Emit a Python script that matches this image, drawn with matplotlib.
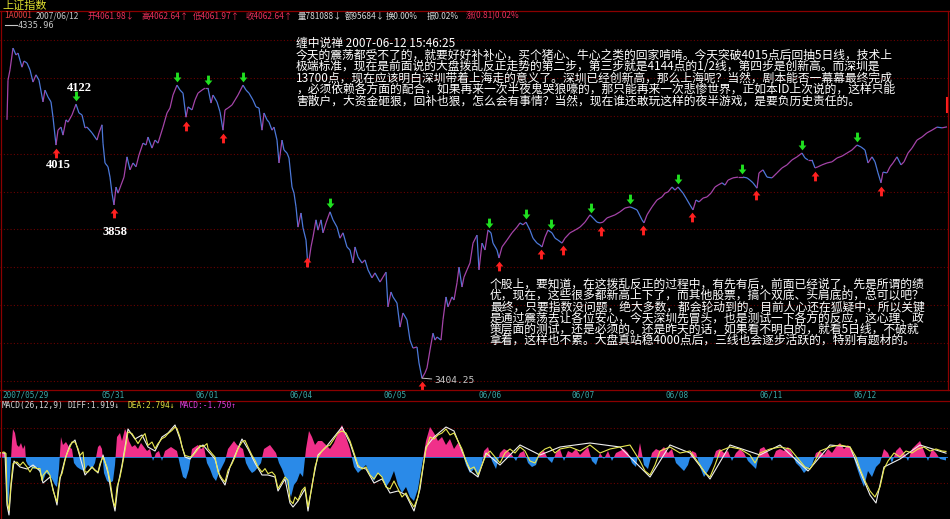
import numpy as np
import matplotlib
matplotlib.use('Agg')
import matplotlib.pyplot as plt
from matplotlib.collections import LineCollection
from matplotlib.path import Path
import matplotlib.transforms as mtransforms

plt.rcParams['font.family'] = ['Noto Sans CJK SC', 'DejaVu Sans']

W, H = 950, 519

# ---- price line (time index ~ half bars, close price) ----
t_left = [7, 8, 10, 13, 16, 18, 22, 24, 27, 30, 33, 36, 39, 43, 45, 48, 51, 53, 56, 58,
          61, 63, 66, 68, 72, 76, 79, 82, 85, 87, 92, 97, 99, 102, 103, 105, 108, 110, 112, 114,
          116, 118, 121, 124, 127, 130, 133, 136, 139, 143, 146, 148, 152, 155, 158, 163, 167, 170, 173, 177,
          180, 183, 186, 188, 192, 195, 198, 202, 205, 208, 211, 213, 217, 220, 223, 225, 228, 232, 235, 238,
          243, 246, 249, 253, 256, 259, 262, 264, 267, 269, 272, 274, 277, 279, 282, 284, 287, 289, 292, 294,
          296, 298, 301, 303, 306, 308, 311, 313, 316, 318, 321, 323, 326, 330, 333, 337, 340, 343, 347, 350,
          353, 355, 358, 362, 365, 368, 372, 375, 380, 383, 386, 388, 391, 393, 397, 400, 403, 407, 410, 413,
          417, 419, 422, 425, 427, 430, 433, 435, 437, 441, 443, 446, 448, 452, 454, 457, 459, 462, 464, 467,
          470, 473, 477, 479]
price_left = [4081, 4185, 4212, 4269, 4251, 4256, 4219, 4235, 4230, 4212, 4180, 4199, 4185, 4128, 4159, 4141, 4128, 4088, 4015, 4054,
              4062, 4041, 4081, 4075, 4094, 4122, 4099, 4094, 4060, 4062, 4047, 4028, 4047, 4068, 4020, 3968, 3958, 3931, 3889, 3858,
              3905, 3889, 3910, 3931, 3984, 3950, 3968, 3958, 3989, 4020, 4015, 4036, 4007, 4028, 4020, 4062, 4099, 4112, 4146, 4172,
              4159, 4151, 4088, 4115, 4107, 4133, 4151, 4159, 4164, 4164, 4125, 4146, 4128, 4102, 4054, 4107, 4112, 4120, 4133, 4146,
              4172, 4159, 4151, 4133, 4115, 4112, 4054, 4099, 4081, 4075, 4054, 4062, 4028, 3968, 4028, 4002, 3994, 3981, 3905, 3889,
              3853, 3800, 3837, 3798, 3766, 3695, 3748, 3774, 3819, 3792, 3819, 3785, 3811, 3840, 3819, 3800, 3771, 3785, 3748, 3740,
              3706, 3748, 3722, 3706, 3714, 3688, 3667, 3680, 3656, 3669, 3682, 3591, 3630, 3617, 3601, 3538, 3575, 3557, 3504, 3483,
              3486, 3444, 3404.25, 3418, 3431, 3478, 3522, 3504, 3512, 3504, 3557, 3617, 3591, 3617, 3609, 3654, 3695, 3643, 3669, 3688,
              3706, 3758, 3779, 3688]
t_right = [482, 485, 488, 491, 493, 497, 499, 502, 507, 512, 517, 520, 523, 526, 530, 533, 537, 540, 542, 545,
           548, 552, 555, 558, 562, 565, 570, 575, 580, 585, 590, 593, 597, 600, 603, 607, 610, 615, 620, 625,
           630, 633, 637, 642, 644, 647, 652, 657, 662, 665, 668, 672, 675, 678, 683, 686, 690, 693, 696, 699,
           703, 707, 711, 715, 718, 722, 725, 728, 733, 738, 743, 747, 750, 753, 757, 759, 763, 767, 772, 777,
           782, 787, 792, 797, 802, 805, 808, 812, 815, 818, 822, 827, 832, 837, 842, 847, 852, 857, 861, 865,
           868, 872, 875, 878, 881, 883, 887, 890, 893, 897, 901, 904, 908, 912, 917, 922, 927, 932, 937, 942,
           947]
price_right = [3758, 3740, 3792, 3785, 3758, 3740, 3719, 3748, 3766, 3785, 3800, 3811, 3806, 3813, 3792, 3771, 3758, 3753, 3748, 3774,
               3792, 3785, 3771, 3766, 3758, 3771, 3785, 3792, 3800, 3813, 3832, 3824, 3813, 3811, 3813, 3824, 3827, 3832, 3840, 3850,
               3853, 3850, 3845, 3819, 3811, 3832, 3853, 3871, 3879, 3889, 3892, 3905, 3897, 3905, 3889, 3876, 3858, 3845, 3871, 3866,
               3876, 3879, 3889, 3905, 3910, 3916, 3910, 3923, 3929, 3931, 3931, 3929, 3923, 3916, 3902, 3942, 3950, 3931, 3929, 3942,
               3955, 3963, 3976, 3984, 3994, 3981, 3976, 3976, 3955, 3958, 3963, 3968, 3971, 3981, 3986, 3994, 4002, 4015, 4010, 4002,
               3968, 3984, 3971, 3942, 3916, 3944, 3942, 3958, 3968, 3984, 3963, 3971, 3994, 4007, 4028, 4036, 4047, 4054, 4062, 4060,
               4062.64]

sell_t = [76, 177, 208, 243, 330, 489, 526, 551, 591, 630, 678, 742, 802, 857]
buy_t = [56, 114, 186, 223, 307, 422, 499, 541, 563, 601, 643, 692, 756, 815, 881]

# label, anchor time, pixel offset (x, y) from the point
labels = [('4122', 76, 3, 16), ('4015', 56, 2, -20), ('3858', 114, 1, -27)]

day_t = [0, 100, 194, 288, 382, 476, 570, 663, 758, 852]
day_labels = ['2007/05/29', '05/31', '06/01', '06/04', '06/05', '06/06', '06/07', '06/08', '06/11', '06/12']

# ---- MACD (time, value) ----
macd_bar = [(0, 1.5), (3, 2), (5, 2), (7, -20), (8, -26), (10, -10), (12, 8), (13, 14), (15, 12), (17, 6),
            (19, 5), (21, 7), (23, 4), (25, 6), (26, -2), (28, -4), (31, -5), (34, -6), (37, -5), (40, -8),
            (43, -12), (46, -8), (49, -9), (52, -11), (55, -14), (57, -15), (59, -6), (61, 10), (63, 6), (66, 7.5),
            (69, 5), (72, 4), (74, -3), (77, -5), (80, -6), (84, -7), (88, -4), (92, -6), (95, -3), (98, 5),
            (100, 6), (102, 4), (104, -8), (107, -12), (110, -13), (113, -12), (115, -4), (117, 10), (120, 12), (122, 8),
            (125, 14), (127, 12), (129, 8), (132, 5), (135, 6), (138, 4), (141, 7), (144, 5), (147, 3), (150, 4),
            (153, -2), (156, 2), (159, 3), (162, -2), (165, 3), (168, 4), (171, 5), (174, 4), (177, 3), (180, -4),
            (183, -10), (186, -11), (189, -6), (192, 4), (195, 5), (198, 6), (201, 4), (204, 5), (207, -3), (210, -6),
            (213, -10), (216, -12), (219, -8), (222, -5), (225, -2), (228, 4), (231, 6), (234, 8), (237, 6), (240, 5),
            (243, 4), (246, -3), (249, -6), (252, -8), (255, -7), (258, -5), (261, -3), (264, 4), (267, 5), (270, 6),
            (273, 4), (276, 2), (279, -3), (282, -6), (285, -10), (288, -15), (291, -20), (294, -14), (297, -12), (300, -8),
            (303, -10), (306, 4), (309, 13), (312, 10), (315, 6), (318, 8), (322, 8), (326, 6), (330, 4), (334, 7),
            (338, 12), (342, 16), (346, 10), (350, 4), (354, -5), (358, -8), (362, -6), (366, -4), (370, -9), (374, -12),
            (378, -8), (382, -10), (386, -15), (390, -12), (394, -7), (398, -14), (402, -18), (406, -15), (410, -20), (414, -22),
            (418, -16), (422, -4), (426, 8), (430, 15), (434, 12), (438, 8), (442, 10), (446, 6), (450, 9), (454, 4),
            (458, 7), (462, 3), (466, -4), (470, -8), (474, -6), (478, -10), (482, -3), (484, 3), (488, 5), (492, -2),
            (496, -6), (500, 2), (504, 4), (508, 3), (512, 1), (516, -2), (520, 2), (524, 3), (528, -3), (532, -5),
            (536, -4), (540, 2), (544, 3), (548, -1), (552, -3), (556, 2), (560, 4), (564, -2), (568, 3), (572, 2),
            (576, 4), (580, 1), (584, 3), (588, 5), (592, -2), (596, -4), (600, 2), (604, -1), (608, 3), (612, -2),
            (616, 2), (620, 3), (624, 4), (628, 2), (632, -3), (636, -5), (640, 7), (644, -4), (648, -6), (652, 2),
            (656, 4), (660, 3), (664, 5), (668, 2), (672, 4), (676, -3), (680, -5), (684, -7), (688, -4), (692, 3),
            (696, 2), (700, -5), (704, -10), (708, -7), (712, -3), (716, 3), (720, 4), (724, 2), (728, 3), (732, -2),
            (736, 2), (740, 4), (744, 2), (748, -2), (752, -4), (756, -6), (760, 4), (764, 5), (768, 2), (772, -2),
            (776, 3), (780, 4), (784, 3), (788, 5), (792, 2), (796, -3), (800, -5), (804, -8), (808, -6), (812, -4),
            (816, 2), (820, 3), (824, 1), (828, 4), (832, 2), (836, 5), (840, 7), (844, 4), (848, 6), (852, 3),
            (856, -4), (860, -10), (864, -15), (868, -7), (872, -10), (876, -5), (880, -3), (884, 4), (888, 2), (892, -3),
            (896, 3), (900, 5), (904, 2), (908, -2), (912, 4), (916, 6), (920, 8), (924, 3), (928, -2), (932, 4),
            (936, 2), (940, -1), (946, -1.75)]
dea_line = [(0, 2), (4, 2.5), (6, 1.7), (7, -21.7), (9, -26.7), (11, -13.3), (13, -3.3), (17, -2.5), (20, -4.2), (23, -2.5),
            (27, -5), (30, -7.5), (33, -5), (37, -5.8), (40, -5.8), (42, -11.7), (43, -9.2), (47, -6.7), (50, -9.2), (53, -16.7),
            (57, -22.5), (58, -16.7), (60, -10), (62, -8.3), (65, -1.7), (67, 1.7), (70, 5), (72, 7.5), (75, 7.5), (78, 4.2),
            (80, 0.8), (83, 2.5), (85, -7.5), (88, -7.5), (92, -5), (95, -6.7), (98, -7.5), (100, -3.3), (103, 0), (107, -5),
            (110, -11.7), (113, -21.7), (115, -25), (117, -15), (120, -10), (122, -5), (125, 3.3), (128, 12.5), (132, 11.7), (135, 9.2),
            (138, 6.7), (142, 10), (145, 11.7), (148, 5.8), (152, 7.5), (155, 4.2), (158, 6.7), (162, 9.2), (165, 10), (168, 11.7),
            (172, 13.3), (175, 15), (177, 14.2), (180, 10), (182, 5), (185, 0.8), (190, 0), (193, 0.8), (197, 3.3), (200, 5.8),
            (203, 5), (207, 6.7), (208, 4.2), (212, 1.7), (215, 0), (218, -7.5), (222, -10.8), (225, -12.5), (228, -6.7), (232, -3.3),
            (235, 0), (238, 4.2), (242, 7.5), (245, 8.3), (248, 5), (252, 0.8), (255, -1.7), (258, -5), (262, -7.5), (265, -5.8),
            (268, -8.3), (272, -7.5), (275, -9.2), (278, -15.8), (282, -12.5), (285, -10), (288, -11.7), (290, -21.7), (293, -23.3), (295, -20),
            (298, -21.7), (302, -16.7), (305, -15), (307, -21.7), (308, -25), (312, -15), (315, -5), (318, 0), (322, 3), (326, 5),
            (330, 6), (334, 9), (338, 12), (342, 13), (346, 12), (350, 8), (354, 2), (358, -4), (362, -6), (366, -5),
            (370, -9), (374, -11), (378, -8), (382, -10), (386, -15), (390, -16), (394, -12), (398, -16), (402, -20), (406, -18),
            (410, -22), (414, -25), (418, -20), (422, -8), (426, 4), (430, 10), (434, 9), (438, 11), (442, 12), (446, 14),
            (450, 11), (454, 12), (458, 8), (462, 4), (466, -2), (470, -6), (474, -5), (478, -9), (482, -4), (486, 1),
            (490, 3), (495, 0), (500, -3), (505, 2), (510, 4), (515, 2), (520, 5), (525, 3), (530, -2), (535, -3),
            (540, 2), (545, 4), (550, 5), (555, 2), (560, 4), (570, 5), (580, 3), (590, 6), (600, 2), (610, 4),
            (620, 5), (630, 6), (640, -2), (645, -7), (650, -9), (655, -4), (660, 3), (670, 5), (680, 2), (690, 3),
            (700, -4), (705, -8), (710, -10), (715, -4), (720, 3), (730, 5), (740, 4), (750, 1), (755, -3), (760, 2),
            (770, 4), (780, 5), (790, 4), (800, -2), (805, -5), (810, -6), (815, -2), (820, 3), (830, 5), (840, 6),
            (850, 5), (856, 0), (860, -6), (865, -12), (870, -17), (875, -20), (880, -15), (884, -6), (888, -2), (894, 2),
            (900, 0), (906, 3), (912, 2), (918, 4), (924, 5), (930, 3), (936, 4), (942, 3), (946, 2.794)]
diff_line = [(0, 2), (5, 2), (7, -24), (9, -29), (11, -15), (14, -2), (20, -5), (27, -6), (33, -4), (40, -7),
             (43, -13), (50, -10), (54, -18), (57, -24), (60, -11), (65, -1), (70, 6), (75, 8.5), (80, 0), (85, -9),
             (92, -5), (98, -8), (103, 1), (108, -8), (112, -20), (115, -27), (118, -14), (122, -4), (128, 14), (135, 9),
             (142, 11), (148, 5), (155, 3), (162, 10), (168, 12), (175, 16), (180, 9), (185, 0), (190, -1), (197, 4),
             (203, 6), (208, 3), (215, -1), (220, -10), (225, -14), (230, -5), (236, 2), (242, 9), (248, 4), (255, -3),
             (262, -9), (268, -9), (275, -10), (278, -17), (285, -11), (290, -23), (293, -25), (298, -22), (305, -16), (308, -27),
             (312, -14), (318, 1), (326, 5), (334, 10), (342, 15), (350, 7), (358, -5), (366, -6), (374, -13), (382, -11),
             (390, -18), (398, -17), (406, -19), (414, -27), (420, -16), (426, 5), (434, 10), (446, 15), (454, 13), (462, 3),
             (470, -7), (478, -10), (486, 2), (500, -4), (520, 6), (540, 1), (560, 5), (590, 7), (620, 5), (650, -10),
             (670, 6), (690, 2), (710, -11), (730, 6), (760, 1), (780, 6), (808, -7), (830, 6), (850, 5), (860, -7),
             (870, -19), (876, -23), (884, -5), (900, -1), (920, 6), (946, 1.919)]

# ---- layout helpers (pixel -> figure fraction) ----
def fx(x):
    return x / W

def fy(y):
    return 1 - y / H

fig = plt.figure(figsize=(W / 100, H / 100), dpi=100, facecolor='black')

ax = fig.add_axes([0, fy(389), fx(948), (389 - 20) / H], facecolor='black')
ax.set_xlim(0, 948)
ax.set_ylim(3375.8, 4342.6)
ax.axis('off')

grid_levels = np.linspace(3397, 4290, 10)
for lv in grid_levels:
    ax.axhline(lv, color='#6a0000', lw=0.8, ls=(0, (1, 2)), zorder=0)

t_all = np.array(t_left + t_right, dtype=float)
p_all = np.array(price_left + price_right, dtype=float)
pts = np.column_stack([t_all, p_all])
segs = np.stack([pts[:-1], pts[1:]], axis=1)
seg_col = ['#a444a8' if b >= a else '#4c78d8' for a, b in zip(p_all[:-1], p_all[1:])]
ax.add_collection(LineCollection(segs, colors=seg_col, linewidths=0.9, zorder=3))

down_arrow = Path([(-0.3, 1), (0.3, 1), (0.3, 0), (0.8, 0), (0, -1), (-0.8, 0), (-0.3, 0), (-0.3, 1)])
up_arrow = Path([(-0.3, -1), (0.3, -1), (0.3, 0), (0.8, 0), (0, 1), (-0.8, 0), (-0.3, 0), (-0.3, -1)])

sell_p = np.interp(sell_t, t_all, p_all)
buy_p = np.interp(buy_t, t_all, p_all)
tr_up = mtransforms.offset_copy(ax.transData, fig=fig, x=0, y=6, units='points')
tr_dn = mtransforms.offset_copy(ax.transData, fig=fig, x=0, y=-6, units='points')
ax.plot(sell_t, sell_p, ls='none', marker=down_arrow, ms=7, color='#20e020', mec='none', transform=tr_up, zorder=4)
ax.plot(buy_t, buy_p, ls='none', marker=up_arrow, ms=7, color='#ff2020', mec='none', transform=tr_dn, zorder=4)

for txt, lt, ox, oy in labels:
    lp = np.interp(lt, t_all, p_all)
    ax.annotate(txt, (lt, lp), xytext=(ox * 0.72, oy * 0.72), textcoords='offset points', ha='center', va='center',
                color='white', fontsize=9, fontweight='bold', family='Liberation Serif')

# minimum label
i_min = int(np.argmin(p_all))
ax.annotate('3404.25', (t_all[i_min], p_all[i_min]), xytext=(9, -2), textcoords='offset points',
            ha='left', va='center', color='#c8c8c8', fontsize=6.8, family='DejaVu Sans Mono',
            arrowprops=dict(arrowstyle='-', color='#c8c8c8', lw=0.7, shrinkA=0, shrinkB=0))

# last price tick on the right edge
ax.plot([947, 947], [p_all[-1] + 40, p_all[-1] + 75], color='#ff2020', lw=1.5, zorder=4)

# ---- MACD panel ----
mx = fig.add_axes([0, 0, fx(948), (519 - 410) / H], facecolor='black')
mx.set_xlim(0, 948)
mx.set_ylim(-31, 23.5)
mx.axis('off')
for lv in [14.5, -13]:
    mx.axhline(lv, color='#6a0000', lw=0.8, ls=(0, (1, 2)), zorder=0)
bar_t, bar_v = map(np.array, zip(*macd_bar))
mx.fill_between(bar_t, 0, bar_v, where=bar_v >= 0, interpolate=True, color='#f0308a', lw=0, zorder=1)
mx.fill_between(bar_t, 0, bar_v, where=bar_v <= 0, interpolate=True, color='#2a8ae8', lw=0, zorder=1)
mx.axhline(0, color='#2a8ae8', lw=0.6, zorder=1)
dt, dv = zip(*diff_line)
et, ev = zip(*dea_line)
mx.plot(dt, dv, color='#f0f0f0', lw=0.8, zorder=2)
mx.plot(et, ev, color='#e8e850', lw=0.8, zorder=3)

# ---- frame lines ----
for yy in [11, 389.5, 401]:
    fig.add_artist(plt.Line2D([0, 1], [fy(yy), fy(yy)], color='#8a0000', lw=0.9))
fig.add_artist(plt.Line2D([fx(0.5), fx(0.5)], [0, fy(11)], color='#8a0000', lw=0.9))
fig.add_artist(plt.Line2D([fx(948), fx(948)], [fy(389.5), fy(11)], color='#8a0000', lw=0.9))

# ---- header texts ----
fig.text(fx(2), fy(5.5), '上证指数', color='#e0e030', fontsize=8, va='center', ha='left')
head = [(4, '1A0001', '#e04040'), (36, '2007/06/12', '#c8c8c8'), (88, '开4061.98↓', '#e8305a'),
        (141, '高4062.64↑', '#e8305a'), (193, '低4061.97↑', '#e8305a'), (246, '收4062.64↑', '#e8305a'),
        (298, '量781088↓', '#d8d8d8'), (345, '额95684↓', '#d8d8d8'), (386, '换0.00%', '#d8d8d8'),
        (427, '振0.02%', '#d8d8d8'), (466, '涨(0.81)0.02%', '#e8305a')]
for x, s, c in head:
    fig.text(fx(x), fy(16), s, color=c, fontsize=6.0, va='center', ha='left')
fig.add_artist(plt.Line2D([fx(5), fx(17)], [fy(25), fy(25)], color='#c8c8c8', lw=0.8))
fig.text(fx(18), fy(25), '4335.96', color='#c8c8c8', fontsize=6.2, va='center', ha='left',
         family='DejaVu Sans Mono')

for x, s in zip(day_t, day_labels):
    fig.text(fx(x + 2), fy(395), s, color='#3aa8a8', fontsize=5.6, va='center', ha='left',
             family='DejaVu Sans Mono')

macd_head = [(2, 'MACD(26,12,9)', '#d8d8d8'), (68, 'DIFF:1.919↓', '#d8d8d8'), (127, 'DEA:2.794↓', '#e0e040'),
             (180, 'MACD:-1.750↑', '#e040e0')]
for x, s, c in macd_head:
    fig.text(fx(x), fy(405.5), s, color=c, fontsize=5.7, va='center', ha='left',
             family=['DejaVu Sans Mono', 'DejaVu Sans'])

# ---- commentary blocks ----
block1 = ['缠中说禅 2007-06-12 15:46:25',
          '今天的震荡都受不了的，就要好好补补心，买个猪心、牛心之类的回家啃啃。今天突破4015点后回抽5日线，技术上',
          '极端标准，现在是前面说的大盘拨乱反正走势的第二步，第三步就是4144点的1/2线，第四步是创新高。而深圳是',
          '13700点，现在应该明白深圳带着上海走的意义了。深圳已经创新高，那么上海呢？当然，剧本能否一幕幕最终完成',
          '，必须依赖各方面的配合，如果再来一次半夜鬼哭狼嚎的，那只能再来一次悲惨世界，正如本ID上次说的，这样只能',
          '害散户，大资金砸狠，回补也狠，怎么会有事情？当然，现在谁还敢玩这样的夜半游戏，是要负历史责任的。']
block2 = ['个股上，要知道，在这拨乱反正的过程中，有先有后，前面已经说了，先是所谓的绩',
          '优，现在，这些很多都新高上下了，而其他股票，搞个双底、头肩底的，总可以吧？',
          '最终，只要指数没问题，绝大多数，都会轮动到的。目前人心还在狐疑中，所以关键',
          '是通过震荡去让各位安心，今天深圳先冒头，也是测试一下各方的反应，这心理、政',
          '策层面的测试，还是必须的。还是昨天的话，如果看不明白的，就看5日线，不破就',
          '拿着，这样也不累。大盘真站稳4000点后，三线也会逐步活跃的，特别有题材的。']
fig.text(fx(296), fy(37), '\n'.join(block1), color='white', fontsize=8.5, va='top', ha='left',
         linespacing=0.85)
fig.text(fx(490), fy(277.5), '\n'.join(block2), color='white', fontsize=8.5, va='top', ha='left',
         linespacing=0.83)

fig.savefig('out.png', dpi=100, facecolor='black')
